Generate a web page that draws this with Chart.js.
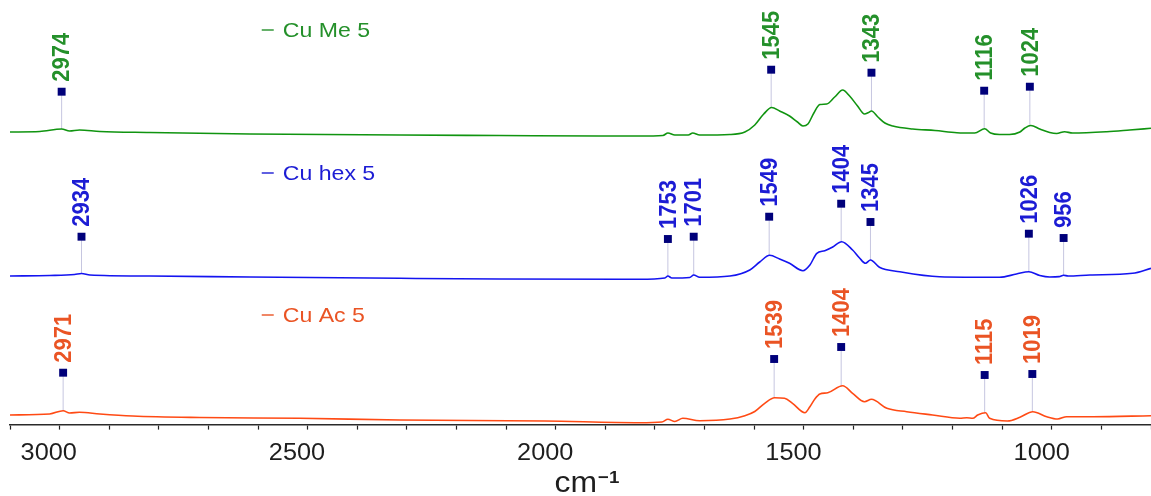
<!DOCTYPE html>
<html>
<head>
<meta charset="utf-8">
<title>IR spectra</title>
<script src="https://cdn.jsdelivr.net/npm/chart.js@4.4.1/dist/chart.umd.min.js"></script>
<style>
html,body{margin:0;padding:0;background:#ffffff;overflow:hidden;}
#box{width:1151px;height:496px;position:relative;}
</style>
</head>
<body>
<div id="box"><canvas id="irChart" width="1151" height="496"></canvas></div>
<script>
// three spectra, cm-1 vs absorbance, each trace lifted by its offset
const names = ["Cu Me 5", "Cu hex 5", "Cu Ac 5"];
const offsets = [2.90, 1.47, 0.05];
const lineColors = ["#109410", "#1414f0", "#ff4a14"];
const textColors = ["#24902a", "#1c1cd4", "#ea5424"];

const meWave = [3078,3018,2974,2958,2938,2897,2797,2595,2293,2092,1890,1810,1763,1753,1739,1712,1703,1689,1628,1598,1578,1560,1544,1528,1508,1492,1481,1471,1459,1447,1433,1417,1401,1387,1371,1357,1349,1343,1330,1316,1300,1260,1215,1171,1135,1115,1103,1085,1065,1044,1034,1022,1004,984,970,954,938,869,823,780];
const meAbs = [0.03,0.035,0.06,0.04,0.05,0.035,0.025,0.01,0.0,-0.005,-0.01,-0.01,-0.005,0.02,0.0,0.0,0.02,0.0,0.005,0.03,0.10,0.21,0.275,0.24,0.19,0.13,0.09,0.11,0.22,0.305,0.31,0.38,0.45,0.39,0.29,0.21,0.225,0.24,0.18,0.12,0.09,0.06,0.045,0.023,0.02,0.063,0.02,0.005,0.005,0.03,0.07,0.095,0.06,0.025,0.015,0.033,0.02,0.033,0.05,0.067];

const hexWave = [3078,2998,2948,2934,2917,2797,2595,2293,2092,1810,1759,1753,1745,1709,1701,1689,1628,1588,1568,1548,1528,1508,1481,1467,1453,1437,1421,1403,1381,1367,1355,1345,1327,1286,1206,1085,1051,1026,1004,984,965,956,947,903,817,780];
const hexAbs = [0.02,0.025,0.035,0.045,0.03,0.02,0.01,-0.003,-0.01,-0.013,0.0,0.02,0.0,0.005,0.03,0.007,0.02,0.08,0.16,0.227,0.19,0.147,0.073,0.13,0.247,0.273,0.31,0.363,0.28,0.2,0.147,0.18,0.107,0.063,0.013,0.007,0.04,0.063,0.025,0.01,0.014,0.027,0.02,0.03,0.047,0.097];

const acWave = [3078,2998,2971,2958,2938,2897,2831,2696,2494,2293,2001,1810,1765,1753,1739,1723,1689,1628,1598,1578,1558,1538,1518,1502,1477,1467,1457,1447,1431,1401,1381,1357,1343,1312,1272,1220,1165,1151,1139,1129,1113,1105,1069,1044,1018,990,968,950,897,780];
const acAbs = [0.05,0.06,0.093,0.07,0.077,0.06,0.04,0.025,0.017,0.0,-0.01,-0.027,-0.02,0.007,-0.015,0.017,-0.007,0.01,0.043,0.085,0.167,0.223,0.217,0.167,0.073,0.133,0.21,0.26,0.273,0.343,0.267,0.183,0.207,0.117,0.083,0.05,0.017,0.023,0.017,0.05,0.073,0.017,-0.01,0.027,0.083,0.033,0.01,0.033,0.033,0.043];

// picked peaks and the height of their marker
const mePeaks = [2974,1545,1343,1116,1024];
const meMarks = [0.433,0.653,0.623,0.443,0.483];
const hexPeaks = [2934,1753,1701,1549,1404,1345,1026,956];
const hexMarks = [0.413,0.39,0.413,0.613,0.743,0.56,0.443,0.40];
const acPeaks = [2971,1539,1404,1115,1019];
const acMarks = [0.473,0.61,0.73,0.45,0.46];

const xTickLabels = [3000,2500,2000,1500,1000];

const waves = [meWave, hexWave, acWave];
const absVals = [meAbs, hexAbs, acAbs];
const peaks = [mePeaks, hexPeaks, acPeaks];
const marks = [meMarks, hexMarks, acMarks];

const STRETCH = 1.1;
const FONT = "'Liberation Sans', Arial, sans-serif";

function absAt(w, a, x){
  for(let i=0;i<w.length-1;i++){
    if((w[i]-x)*(w[i+1]-x)<=0){
      const t=(x-w[i])/(w[i+1]-w[i]);
      return a[i]+t*(a[i+1]-a[i]);
    }
  }
  return a[a.length-1];
}

function putText(ctx, str, x, y, font, color, align, baseline, rotate){
  ctx.save();
  ctx.translate(x,y);
  ctx.scale(STRETCH,1);
  if(rotate) ctx.rotate(-Math.PI/2);
  ctx.font=font;
  ctx.fillStyle=color;
  ctx.textAlign=align;
  ctx.textBaseline=baseline;
  ctx.fillText(str,0,0);
  ctx.restore();
}

const datasets = [];

waves.forEach((w,s)=>{
  datasets.push({
    type:"line",
    data:w.map((x,i)=>({x:x,y:absVals[s][i]+offsets[s]})),
    borderColor:lineColors[s],
    borderWidth:1.6,
    pointRadius:0,
    cubicInterpolationMode:"monotone",
    fill:false,
    order:2
  });
});

peaks.forEach((p,s)=>{
  const stick=[];
  p.forEach((x,i)=>{
    stick.push({x:x,y:absAt(waves[s],absVals[s],x)+offsets[s]});
    stick.push({x:x,y:marks[s][i]+offsets[s]});
    stick.push({x:x,y:null});
  });
  datasets.push({
    type:"line",
    data:stick,
    borderColor:"#c6c6e0",
    borderWidth:1,
    pointRadius:0,
    spanGaps:false,
    order:3
  });
  datasets.push({
    type:"scatter",
    data:p.map((x,i)=>({x:x,y:marks[s][i]+offsets[s]})),
    pointStyle:"rect",
    pointRadius:5.6,
    pointBackgroundColor:"#00007a",
    pointBorderWidth:0,
    order:1
  });
});

const textPlugin = {
  id:"irText",
  afterDraw(chart){
    const ctx=chart.ctx;
    const xs=chart.scales.x, ys=chart.scales.y;

    // peak labels, rotated
    peaks.forEach((p,s)=>{
      p.forEach((x,i)=>{
        const px=xs.getPixelForValue(x);
        const py=ys.getPixelForValue(marks[s][i]+offsets[s]);
        putText(ctx,String(x),px+1,py-10,"bold 22px "+FONT,textColors[s],"left","middle",true);
      });
    });

    // trace names
    const at=2571;
    names.forEach((n,s)=>{
      const px=xs.getPixelForValue(at);
      const py=ys.getPixelForValue(offsets[s]+1.05);
      ctx.save();
      ctx.strokeStyle=textColors[s];
      ctx.lineWidth=1.4;
      ctx.beginPath();
      ctx.moveTo(px,py);
      ctx.lineTo(px+12,py);
      ctx.stroke();
      ctx.restore();
      putText(ctx,n,px+21,py+1,"21px "+FONT,textColors[s],"left","middle",false);
    });

    // tick labels
    xTickLabels.forEach(v=>{
      putText(ctx,String(v),xs.getPixelForValue(v),xs.top+35,"23px "+FONT,"#1e1e1e","center","alphabetic",false);
    });

    // axis title
    ctx.save();
    ctx.font="29px "+FONT;
    const w1=ctx.measureText("cm").width*STRETCH;
    ctx.font="bold 17px "+FONT;
    const w2=ctx.measureText("\u22121").width*STRETCH;
    ctx.restore();
    const cx=(chart.chartArea.left+chart.chartArea.right)/2+6;
    const x0=cx-(w1+w2)/2;
    putText(ctx,"cm",x0,xs.top+67,"29px "+FONT,"#1e1e1e","left","alphabetic",false);
    putText(ctx,"\u22121",x0+w1+1,xs.top+58,"bold 17px "+FONT,"#1e1e1e","left","alphabetic",false);
  }
};

const isMajor = c => c.tick && Math.round(c.tick.value)%500===0;

new Chart(document.getElementById("irChart"),{
  data:{datasets:datasets},
  options:{
    responsive:false,
    animation:false,
    layout:{autoPadding:false,padding:{left:10,right:0,top:0,bottom:59}},
    plugins:{legend:{display:false},tooltip:{enabled:false}},
    scales:{
      x:{
        type:"linear",
        reverse:true,
        min:780,
        max:3078,
        border:{display:true,color:"#2a2a2a",width:1.6},
        grid:{
          drawOnChartArea:false,
          tickLength:12,
          tickColor:"#222222",
          tickWidth:c=>isMajor(c)?2.4:1.2,
          tickBorderDash:c=>isMajor(c)?[]:[4,40]
        },
        ticks:{display:false,stepSize:100,maxTicksLimit:100,includeBounds:false,autoSkip:false}
      },
      y:{display:false,min:0,max:4.25}
    }
  },
  plugins:[textPlugin]
});
</script>
</body>
</html>
